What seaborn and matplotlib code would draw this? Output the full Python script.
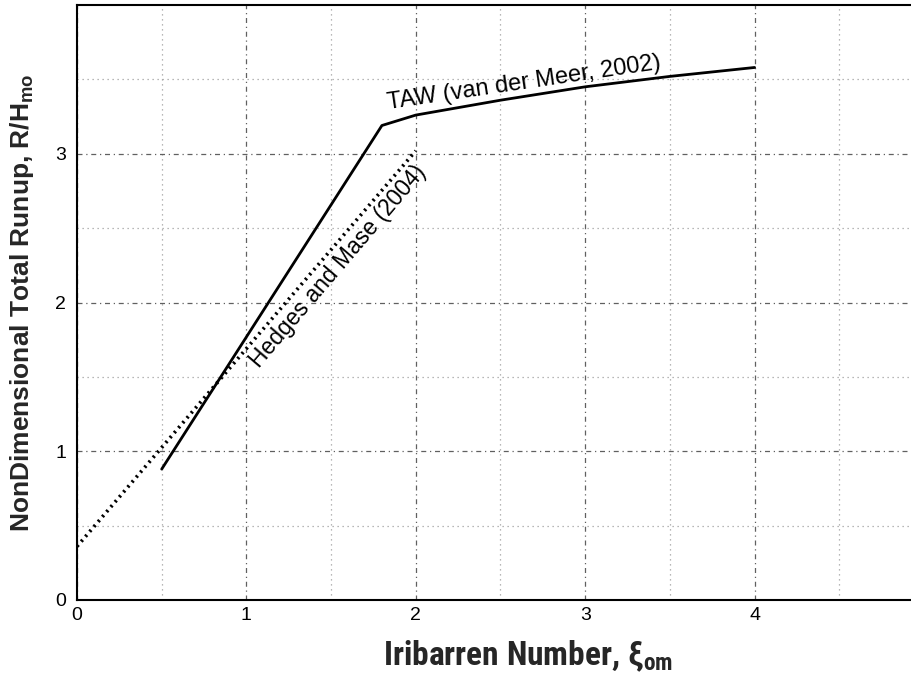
import numpy as np
import pandas as pd
import matplotlib
matplotlib.use("Agg")
import matplotlib.pyplot as plt
import seaborn as sns

# === Data ===
taw_x = [0.5, 1.8, 2.0, 2.5, 3.0, 3.5, 4.0]
taw_y = [0.88, 3.19, 3.26, 3.36, 3.45, 3.52, 3.58]
hm_x = [0.0, 2.0]
hm_y = [0.36, 3.02]

x_ticks = [0, 1, 2, 3, 4]
y_ticks = [0, 1, 2, 3]

taw = pd.DataFrame({"xi": taw_x, "R": taw_y})
hm = pd.DataFrame({"xi": hm_x, "R": hm_y})

sns.set_style("white")
plt.rcParams["font.family"] = ["Liberation Sans", "DejaVu Sans"]
plt.rcParams["mathtext.fontset"] = "custom"
plt.rcParams["mathtext.rm"] = "Liberation Sans"

narrow = ["Roboto Condensed", "Archivo Narrow", "PT Sans Narrow",
          "Liberation Sans Narrow", "Liberation Sans", "DejaVu Sans"]

fig = plt.figure(figsize=(9.12, 6.79), dpi=100)
# axes run past the right edge, the reference is cropped there
ax = fig.add_axes([77 / 912, 79 / 679, 847 / 912, 595 / 679])

# Grid: dotted minor lines every 0.5, dashed major lines every 1
ax.set_xticks(np.arange(0.5, 5, 1.0), minor=True)
ax.set_yticks(np.arange(0.5, 4, 1.0), minor=True)
ax.set_xticks(x_ticks)
ax.set_yticks(y_ticks)
ax.grid(which="minor", color="#a0a0a0", linestyle=(0, (1, 3)), linewidth=0.9)
ax.grid(which="major", color="#606060", linestyle=(0, (4, 3, 1, 3)), linewidth=0.9)
ax.set_axisbelow(True)

sns.lineplot(data=taw, x="xi", y="R", ax=ax, color="black", linewidth=2.0)
sns.lineplot(data=hm, x="xi", y="R", ax=ax, color="black", linewidth=2.6,
             linestyle=(0, (0.6, 1.2)))

ax.set_xlim(0, 5)
ax.set_ylim(0, 4)

for s in ["left", "bottom", "top"]:
    ax.spines[s].set_color("black")
    ax.spines[s].set_linewidth(1.5)
ax.spines["right"].set_visible(False)

ax.tick_params(axis="both", which="major", direction="in", length=6, width=1.2,
               labelsize=14, colors="black")
ax.tick_params(axis="x", which="major", pad=5)
ax.tick_params(axis="y", which="major", pad=8)
ax.tick_params(axis="both", which="minor", length=0)

ax.text(1.84, 3.30, "TAW (van der Meer, 2002)", rotation=8.4, ha="left",
        va="baseline", rotation_mode="anchor", fontsize=17, color="black")
ax.text(1.075, 1.555, "Hedges and Mase (2004)", rotation=49.5, ha="left",
        va="baseline", rotation_mode="anchor", fontsize=16.5, color="black")

ax.set_xlabel(r"Iribarren Number, ξ$_{\mathregular{om}}$", family=narrow,
              fontsize=24, fontweight="bold")
ax.xaxis.set_label_coords((528 - 77) / 847, -38 / 595, transform=ax.transAxes)
ax.xaxis.label.set_va("top")
ax.set_ylabel(r"NonDimensional Total Runup, R/H$_{\mathregular{mo}}$",
              fontsize=19, fontweight="bold", labelpad=14)

fig.savefig("out.png", dpi=100)
